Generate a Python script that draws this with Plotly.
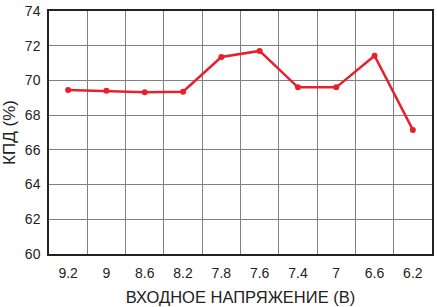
import plotly.graph_objects as go

categories = ["9.2", "9", "8.6", "8.2", "7.8", "7.6", "7.4", "7", "6.6", "6.2"]
efficiency = [69.45, 69.4, 69.32, 69.35, 71.35, 71.7, 69.6, 69.6, 71.42, 67.15]
y_ticks = [60, 62, 64, 66, 68, 70, 72, 74]

x_idx = list(range(len(categories)))

fig = go.Figure()
fig.add_trace(go.Scatter(
    x=x_idx, y=efficiency, mode="lines+markers",
    line=dict(color="#e8202a", width=2.5),
    marker=dict(color="#e8202a", size=6),
    showlegend=False,
))

font_family = "Liberation Sans, Arial, sans-serif"
fig.update_layout(
    width=437, height=307,
    margin=dict(l=49, r=3, t=8, b=53),
    paper_bgcolor="white", plot_bgcolor="white",
    font=dict(family=font_family, size=14, color="#222"),
    xaxis=dict(
        range=[-0.5, len(categories) - 0.5],
        tickvals=x_idx, ticktext=categories,
        showgrid=False, zeroline=False,
        showline=True, linecolor="#222", linewidth=1.5, mirror=True,
        ticks="", ticklabelstandoff=5,
        minor=dict(tickvals=[i + 0.5 for i in x_idx[:-1]], showgrid=True,
                   gridcolor="#808080", gridwidth=1.2),
        title=dict(text="ВХОДНОЕ НАПРЯЖЕНИЕ (В)", font=dict(size=16.5), standoff=12),
    ),
    yaxis=dict(
        range=[60, 74], tickvals=y_ticks,
        showgrid=True, gridcolor="#808080", gridwidth=1.2, zeroline=False,
        showline=True, linecolor="#222", linewidth=1.5, mirror=True,
        ticks="", ticklabelstandoff=4, ticklabeloverflow="allow",
        title=dict(text="КПД (%)", font=dict(size=17), standoff=7),
    ),
)

fig.write_html("out.html")
